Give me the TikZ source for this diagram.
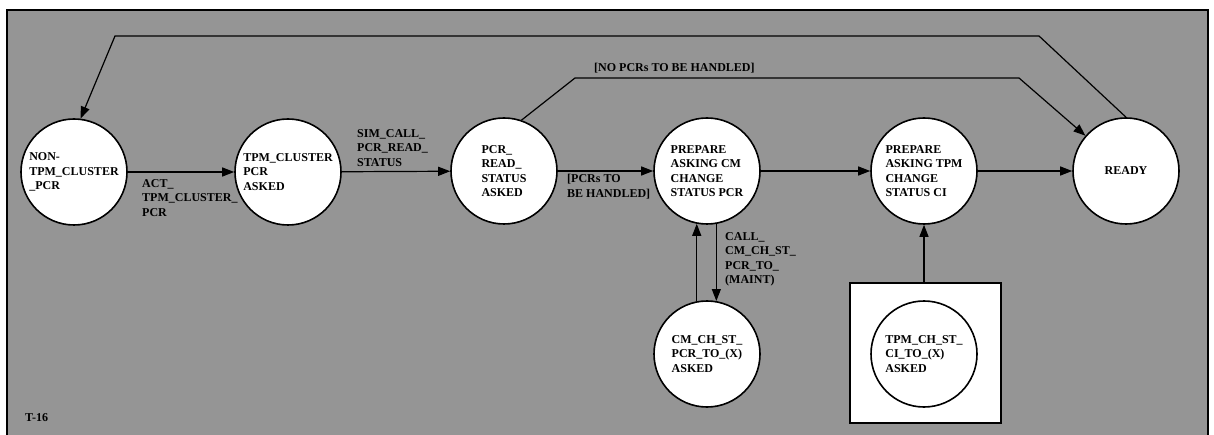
\documentclass[tikz,border=0pt]{standalone}
\usepackage{fontspec}
\setmainfont{Liberation Serif}
\usepackage{tikz}
\usetikzlibrary{arrows.meta}
\pgfdeclarelayer{edgelayer}
\pgfdeclarelayer{nodelayer}
\pgfsetlayers{edgelayer,nodelayer,main}
\definecolor{panelgray}{RGB}{149,149,149}
\tikzstyle{panel}=[draw=black, fill=panelgray, line width=1.6pt]
\tikzstyle{arrowedge}=[draw=black, line width=1.2pt, -{Triangle[length=12pt,width=9pt]}]
\tikzstyle{edge}=[draw=black, line width=1.2pt]
\tikzstyle{state}=[circle, fill=white, draw=black, line width=1.6pt, minimum size=106pt, inner sep=0pt, align=left, font=\bfseries\fontsize{12}{14.5}\selectfont]
\tikzstyle{frame}=[rectangle, fill=white, draw=black, line width=1.6pt, minimum width=151pt, minimum height=140pt]
\tikzstyle{label}=[inner sep=0pt, align=left, font=\bfseries\fontsize{12}{14.5}\selectfont]

\begin{document}
\begin{tikzpicture}[x=1pt, y=-1pt]
					\useasboundingbox (0, 0) rectangle (1214, 435);
					\begin{pgfonlayer}{nodelayer}
						\node [style=state] (1) at (74, 172) {NON-\\TPM\_CLUSTER\\\_PCR};
						\node [style=state] (2) at (288, 172) {TPM\_CLUSTER\\PCR\\ASKED};
						\node [style=state] (3) at (504, 171) {PCR\_\\READ\_\\STATUS\\ASKED};
						\node [style=state] (4) at (707, 171) {PREPARE\\ASKING CM\\CHANGE\\STATUS PCR};
						\node [style=state] (5) at (924, 171) {PREPARE\\ASKING TPM\\CHANGE\\STATUS CI};
						\node [style=state] (6) at (1126, 171) {READY};
						\node [style=state] (7) at (707, 354) {CM\_CH\_ST\_\\PCR\_TO\_(X)\\ASKED};
						\node [style=frame] (box) at (925.5, 353) {};
						\node [style=state] (8) at (924, 354) {TPM\_CH\_ST\_\\CI\_TO\_(X)\\ASKED};
						\node [style=label, anchor=north west] (l1) at (142, 179) {ACT\_\\TPM\_CLUSTER\_\\PCR};
						\node [style=label, anchor=north west] (l2) at (357, 129) {SIM\_CALL\_\\PCR\_READ\_\\STATUS};
						\node [style=label, anchor=north west] (l3) at (567, 174) {[PCRs TO\\BE HANDLED]};
						\node [style=label, anchor=west] (l4) at (594, 68) {[NO PCRs TO BE HANDLED]};
						\node [style=label, anchor=north west] (l5) at (725, 232) {CALL\_\\CM\_CH\_ST\_\\PCR\_TO\_\\(MAINT)};
						\node [style=label, anchor=west] (l6) at (25, 418) {T-16};
					\end{pgfonlayer}
					\begin{pgfonlayer}{edgelayer}
						\draw [style=panel] (7, 10) rectangle (1208, 450);
						\coordinate (c1) at (575, 78);
						\coordinate (c2) at (1019, 78);
						\coordinate (c3) at (1039, 36);
						\coordinate (c4) at (115, 36);
						\draw [style=arrowedge] (1) to (2);
						\draw [style=arrowedge] (2) to (3);
						\draw [style=arrowedge] (3) to (4);
						\draw [style=arrowedge] (4) to (5);
						\draw [style=arrowedge] (5) to (6);
						\draw [style=arrowedge] (3.71) -- (c1) -- (c2) -- (6);
						\draw [style=arrowedge] (6.north) -- (c3) -- (c4) -- (1.83);
						\draw [style=arrowedge] (7.101) -- (4.259);
						\draw [style=arrowedge] (4.280) -- (7.80);
						\draw [style=arrowedge] (8) to (5);
					\end{pgfonlayer}
				\end{tikzpicture}
\end{document}
